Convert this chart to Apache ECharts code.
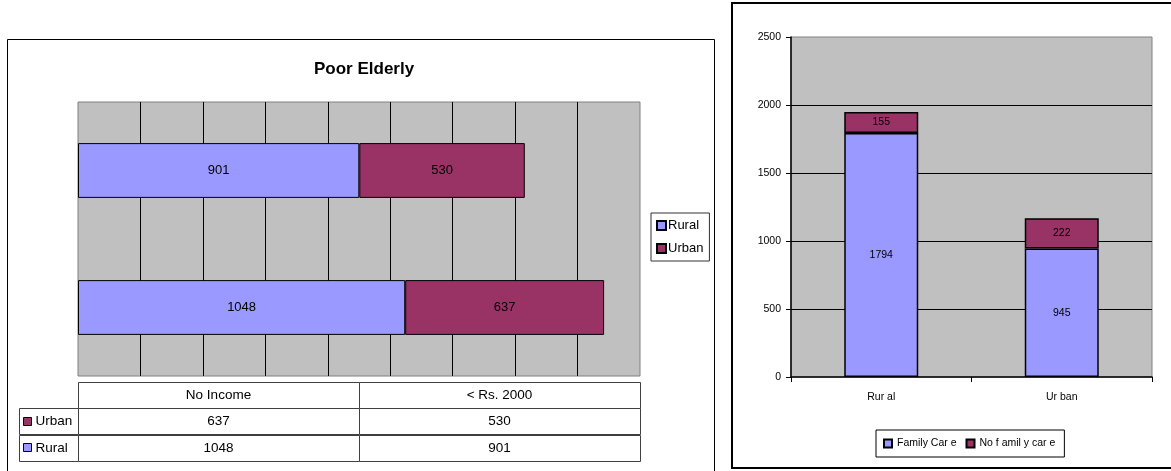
<!DOCTYPE html>
<html>
<head>
<meta charset="utf-8">
<script src="https://cdn.jsdelivr.net/npm/echarts@6/dist/echarts.min.js"></script>
<style>
  html, body { margin: 0; padding: 0; background: #fff; }
  #chart { width: 1171px; height: 471px; }
</style>
</head>
<body>
<div id="chart"></div>
<script>
// Poor Elderly: income groups split by residence
const incomeCats = ['No Income', '< Rs. 2000'];
const ruralIncome = [1048, 901];
const urbanIncome = [637, 530];

// Care arrangements by residence
const careCats = ['Rur al', 'Ur ban'];
const familyCare = [1794, 945];
const noFamilyCare = [155, 222];

const incomeTicks = { min: 0, max: 1800, interval: 200 };
const careTicks = { min: 0, max: 2500, interval: 500 };

const FONT = 'Liberation Sans, Arial, sans-serif';
const BLUE = '#9999FF';
const PLUM = '#993366';

// Data table under the bar chart: header row, then Urban, then Rural
const tableRows = ['', 'Urban', 'Rural'];
const tableCells = [];
incomeCats.forEach((c, i) => tableCells.push({ col: i, row: 0, text: c }));
urbanIncome.forEach((v, i) => tableCells.push({ col: i, row: 1, text: String(v) }));
ruralIncome.forEach((v, i) => tableCells.push({ col: i, row: 2, text: String(v) }));
const rowKeys = [
  { row: 1, text: 'Urban', color: PLUM },
  { row: 2, text: 'Rural', color: BLUE }
];
const KEY_W = 59;

const chart = echarts.init(document.getElementById('chart'), null, { renderer: 'canvas' });

const option = {
  animation: false,
  backgroundColor: '#fff',
  textStyle: { fontFamily: FONT },
  title: {
    text: 'Poor Elderly',
    left: 309, top: 56,
    textStyle: { fontFamily: FONT, fontSize: 17, fontWeight: 'bold', color: '#000' }
  },
  graphic: [
    { type: 'rect', shape: { x: 7.5, y: 39.5, width: 707, height: 450 }, style: { fill: 'none', stroke: '#000', lineWidth: 1 }, z: 0 },
    { type: 'rect', shape: { x: 732, y: 3, width: 460, height: 465 }, style: { fill: 'none', stroke: '#000', lineWidth: 2 }, z: 0 }
  ],
  legend: [
    {
      data: ['Rural', 'Urban'],
      orient: 'vertical',
      left: 651, top: 213,
      padding: [6, 6, 6, 5],
      itemGap: 10,
      itemWidth: 9, itemHeight: 9,
      borderColor: '#333', borderWidth: 1,
      icon: 'rect',
      textStyle: { fontFamily: FONT, fontSize: 13, color: '#000', padding: [0, 0, 0, -3] },
      selectedMode: false
    },
    {
      data: ['Family Car e', 'No f amil y car e'],
      orient: 'horizontal',
      left: 876, top: 430,
      padding: [8, 9, 8, 7],
      itemGap: 9,
      itemWidth: 8, itemHeight: 8,
      borderColor: '#000', borderWidth: 1,
      icon: 'rect',
      textStyle: { fontFamily: FONT, fontSize: 10.5, color: '#000' },
      selectedMode: false
    }
  ],
  grid: [
    { left: 78, top: 102, width: 562, height: 274, show: true, backgroundColor: '#C0C0C0', borderColor: '#808080', borderWidth: 1 },
    { left: 78, top: 382, width: 562, height: 79, show: false },
    { left: 791, top: 37, width: 361, height: 340, show: true, backgroundColor: '#C0C0C0', borderColor: '#808080', borderWidth: 1 }
  ],
  xAxis: [
    {
      gridIndex: 0, type: 'value',
      min: incomeTicks.min, max: incomeTicks.max, interval: incomeTicks.interval,
      axisLine: { show: false }, axisTick: { show: false }, axisLabel: { show: false },
      splitLine: { show: true, showMinLine: false, showMaxLine: false, lineStyle: { color: '#000', width: 1 } }
    },
    {
      gridIndex: 1, type: 'category', data: incomeCats,
      axisLine: { show: false }, axisTick: { show: false }, axisLabel: { show: false }, splitLine: { show: false }
    },
    {
      gridIndex: 2, type: 'category', data: careCats,
      axisLine: { show: true, lineStyle: { color: '#000', width: 1.5 } },
      axisTick: { show: true, length: 5, lineStyle: { color: '#000', width: 1 } },
      axisLabel: { fontFamily: FONT, fontSize: 10.5, color: '#000', margin: 15 },
      splitLine: { show: false }
    }
  ],
  yAxis: [
    {
      gridIndex: 0, type: 'category', data: incomeCats,
      axisLine: { show: false }, axisTick: { show: false }, axisLabel: { show: false }, splitLine: { show: false }
    },
    {
      gridIndex: 1, type: 'category', data: tableRows, inverse: true,
      axisLine: { show: false }, axisTick: { show: false }, axisLabel: { show: false }, splitLine: { show: false }
    },
    {
      gridIndex: 2, type: 'value',
      min: careTicks.min, max: careTicks.max, interval: careTicks.interval,
      axisLine: { show: true, lineStyle: { color: '#000', width: 1.5 } },
      axisTick: { show: true, length: 5, lineStyle: { color: '#000', width: 1 } },
      axisLabel: { fontFamily: FONT, fontSize: 10.5, color: '#000', margin: 10, formatter: v => String(v) },
      splitLine: { show: true, showMinLine: false, showMaxLine: false, lineStyle: { color: '#000', width: 1 } }
    }
  ],
  series: [
    {
      name: 'Rural', type: 'bar', stack: 'income', xAxisIndex: 0, yAxisIndex: 0,
      data: ruralIncome, barWidth: '40%',
      itemStyle: { color: BLUE, borderColor: '#000', borderWidth: 1 },
      label: { show: true, position: 'inside', color: '#000', fontFamily: FONT, fontSize: 13 }
    },
    {
      name: 'Urban', type: 'bar', stack: 'income', xAxisIndex: 0, yAxisIndex: 0,
      data: urbanIncome, barWidth: '40%',
      itemStyle: { color: PLUM, borderColor: '#000', borderWidth: 1 },
      label: { show: true, position: 'inside', color: '#000', fontFamily: FONT, fontSize: 13 }
    },
    {
      // value cells of the data table
      type: 'custom', xAxisIndex: 1, yAxisIndex: 1, clip: false, silent: true,
      data: tableCells.map(c => [c.col, c.row]),
      renderItem: function (params, api) {
        const p = api.coord([api.value(0), api.value(1)]);
        const s = api.size([1, 1]);
        const cell = tableCells[params.dataIndex];
        return {
          type: 'group',
          children: [
            { type: 'rect', shape: { x: Math.round(p[0] - s[0] / 2) + 0.5, y: Math.round(p[1] - s[1] / 2) + 0.5, width: Math.round(s[0]), height: Math.round(s[1]) },
              style: { fill: '#fff', stroke: '#404040', lineWidth: 1 } },
            { type: 'text', style: { text: cell.text, x: p[0], y: p[1], align: 'center', verticalAlign: 'middle', fontFamily: FONT, fontSize: 13.5, fill: '#000' } }
          ]
        };
      }
    },
    {
      // legend keys at the left of the data table rows
      type: 'custom', xAxisIndex: 1, yAxisIndex: 1, clip: false, silent: true,
      data: rowKeys.map(k => [0, k.row]),
      renderItem: function (params, api) {
        const p = api.coord([api.value(0), api.value(1)]);
        const s = api.size([1, 1]);
        const key = rowKeys[params.dataIndex];
        const x0 = Math.round(p[0] - s[0] / 2 - KEY_W) + 0.5;
        const y0 = Math.round(p[1] - s[1] / 2) + 0.5;
        return {
          type: 'group',
          children: [
            { type: 'rect', shape: { x: x0, y: y0, width: KEY_W, height: Math.round(s[1]) },
              style: { fill: '#fff', stroke: '#404040', lineWidth: 1 } },
            { type: 'rect', shape: { x: x0 + 4, y: Math.round(p[1]) - 4.5, width: 8, height: 8 },
              style: { fill: key.color, stroke: '#000', lineWidth: 1 } },
            { type: 'text', style: { text: key.text, x: x0 + 16, y: p[1], align: 'left', verticalAlign: 'middle', fontFamily: FONT, fontSize: 13.5, fill: '#000' } }
          ]
        };
      }
    },
    {
      name: 'Family Car e', type: 'bar', stack: 'care', xAxisIndex: 2, yAxisIndex: 2,
      data: familyCare, barWidth: 74,
      itemStyle: { color: BLUE, borderColor: '#000', borderWidth: 1.5 },
      label: { show: true, position: 'inside', color: '#000', fontFamily: FONT, fontSize: 10.5 }
    },
    {
      name: 'No f amil y car e', type: 'bar', stack: 'care', xAxisIndex: 2, yAxisIndex: 2,
      data: noFamilyCare, barWidth: 74,
      itemStyle: { color: PLUM, borderColor: '#000', borderWidth: 1.5 },
      label: { show: true, position: 'inside', color: '#000', fontFamily: FONT, fontSize: 10.5 }
    }
  ]
};

chart.setOption(option);
</script>
</body>
</html>
